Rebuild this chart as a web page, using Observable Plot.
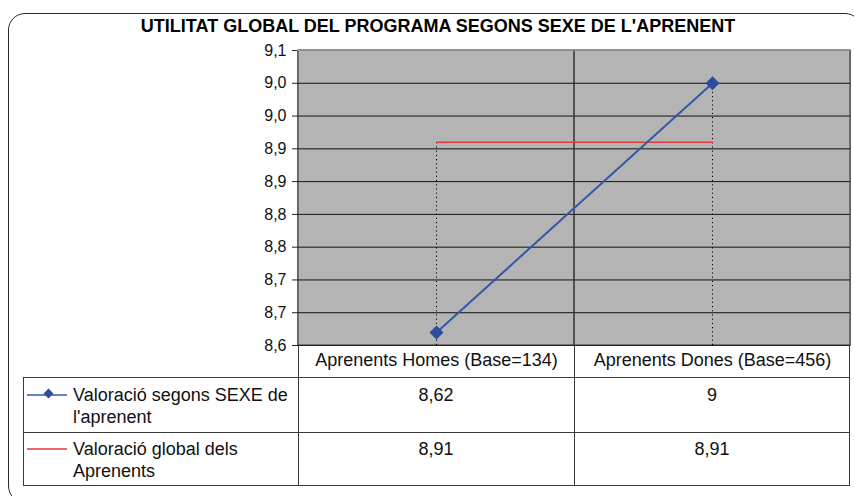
<!DOCTYPE html>
<html>
<head>
<meta charset="utf-8">
<script src="https://cdn.jsdelivr.net/npm/d3@7"></script>
<script src="https://cdn.jsdelivr.net/npm/@observablehq/plot@0.6"></script>
<style>
  html, body { margin: 0; padding: 0; background: #fff; }
  body { font-family: "Liberation Sans", Arial, sans-serif; }
  #wrap { position: relative; width: 854px; height: 496px; overflow: hidden; background: #fff; }
  #box { position: absolute; left: 8px; top: 13px; width: 854px; height: 490px; border: 1.5px solid #2a2a2a; border-radius: 17px; box-sizing: border-box; }
  #title { position: absolute; left: 8px; width: 860px; top: 14px; text-align: center; font-weight: bold; font-size: 18px; line-height: 24px; color: #000; white-space: nowrap; }
  #chart { position: absolute; left: 0; top: 0; }
  .hl { position: absolute; height: 0; border-top: 1px solid #3a3a3a; }
  .vl { position: absolute; width: 0; border-left: 1px solid #3a3a3a; }
  .cell { position: absolute; font-size: 18px; line-height: 22px; color: #111; }
  .val { text-align: center; }
</style>
</head>
<body>
<div id="wrap">
  <div id="box"></div>
  <div id="title"></div>
  <div id="chart"></div>
  <div id="table"></div>
</div>
<script>
// ---- data ----
const titleText = "UTILITAT GLOBAL DEL PROGRAMA SEGONS SEXE DE L'APRENENT";
const categories = ["Aprenents Homes (Base=134)", "Aprenents Dones (Base=456)"];
const seriesName = "Valoració segons SEXE de l'aprenent";
const seriesValues = [8.62, 9];
const globalName = "Valoració global dels Aprenents";
const globalValues = [8.91, 8.91];
const yTicks = [8.6, 8.65, 8.7, 8.75, 8.8, 8.85, 8.9, 8.95, 9.0, 9.05];
const yTickLabels = ["8,6", "8,7", "8,7", "8,8", "8,8", "8,9", "8,9", "9,0", "9,0", "9,1"];

// ---- styles ----
const blue = "#3457a8";
const blueMark = "#2c4d9e";
const red = "#e4393e";
const yMin = d3.min(yTicks), yMax = d3.max(yTicks);
const fmt = v => String(v).replace(".", ",");

document.getElementById("title").textContent = titleText;

const rows = categories.map((c, i) => ({cat: c, s: seriesValues[i], g: globalValues[i], top: Math.max(seriesValues[i], globalValues[i])}));

const chart = Plot.plot({
  width: 854,
  height: 496,
  marginTop: 50,
  marginBottom: 151,
  marginLeft: 297,
  marginRight: 4,
  style: {fontFamily: "'Liberation Sans', Arial, sans-serif", fontSize: "18px", background: "transparent", color: "#111"},
  x: {type: "band", domain: categories, padding: 0, label: null},
  y: {domain: [yMin, yMax], label: null},
  marks: [
    Plot.frame({fill: "#b4b4b4", stroke: "#8a8a8a"}),
    Plot.gridY(yTicks.filter(t => t < yMax), {stroke: "#111", strokeOpacity: 1, strokeWidth: 1}),
    Plot.barY(categories, {x: d => d, y1: yMin, y2: yMax, fill: "none", stroke: "#333"}),
    Plot.ruleY([yMax], {stroke: "#8a8a8a"}),
    Plot.axisY(yTicks, {tickSize: 5, tickPadding: 6, fontSize: 16, stroke: "#222", tickFormat: d => yTickLabels[yTicks.indexOf(d)], label: null}),
    Plot.axisX({tickSize: 0, tickPadding: 8, fontSize: 18, label: null}),
    Plot.ruleX(rows, {x: "cat", y1: yMin, y2: "top", stroke: "#000", strokeDasharray: "1.2,3", strokeWidth: 1}),
    Plot.line(rows, {x: "cat", y: "g", stroke: red, strokeWidth: 1.5}),
    Plot.line(rows, {x: "cat", y: "s", stroke: blue, strokeWidth: 2}),
    Plot.dot(rows, {x: "cat", y: "s", symbol: "diamond2", r: 6.3, fill: blueMark, stroke: "none"})
  ]
});
document.getElementById("chart").appendChild(chart);

// ---- data table below the chart, columns taken from the x scale ----
const xs = chart.scale("x");
const bw = xs.bandwidth;
const colEdges = categories.map(c => xs.apply(c));
const leftEdge = 23, rightEdge = colEdges[colEdges.length - 1] + bw;
const axisBottom = 345, headBottom = 377, row1Bottom = 432, tableBottom = 486;
const tbl = document.getElementById("table");
function add(cls, style, html) {
  const d = document.createElement("div");
  d.className = cls;
  Object.assign(d.style, style);
  if (html != null) d.innerHTML = html;
  tbl.appendChild(d);
  return d;
}
// horizontal lines
[headBottom, row1Bottom, tableBottom - 1].forEach(y => add("hl", {left: leftEdge + "px", top: y + "px", width: (rightEdge - leftEdge) + "px"}));
// vertical lines
add("vl", {left: leftEdge + "px", top: headBottom + "px", height: (tableBottom - headBottom) + "px"});
colEdges.forEach(x => add("vl", {left: Math.round(x) + "px", top: axisBottom + "px", height: (tableBottom - axisBottom) + "px"}));
add("vl", {left: Math.round(rightEdge) - 1 + "px", top: axisBottom + "px", height: (tableBottom - axisBottom) + "px"});

// legend swatches
const sw1 = `<svg width="44" height="14" style="position:absolute;left:-46px;top:4px;overflow:visible">
  <line x1="0" y1="7" x2="40" y2="7" stroke="${blue}" stroke-width="1.5"/>
  <rect x="18" y="2" width="7" height="7" transform="rotate(45 21.5 5.5)" fill="${blueMark}"/></svg>`;
const sw2 = `<svg width="44" height="14" style="position:absolute;left:-46px;top:4px;overflow:visible">
  <line x1="0" y1="7" x2="40" y2="7" stroke="${red}" stroke-width="1.5"/></svg>`;
const rowTops = [384, 438];
const names = [seriesName, globalName];
const vals = [seriesValues, globalValues];
const sws = [sw1, sw2];
names.forEach((n, r) => {
  add("cell", {left: "73px", top: rowTops[r] + "px", width: "222px"}, sws[r] + n);
  categories.forEach((c, i) => {
    add("cell val", {left: colEdges[i] + "px", top: rowTops[r] + "px", width: bw + "px"}, fmt(vals[r][i]));
  });
});
</script>
</body>
</html>
